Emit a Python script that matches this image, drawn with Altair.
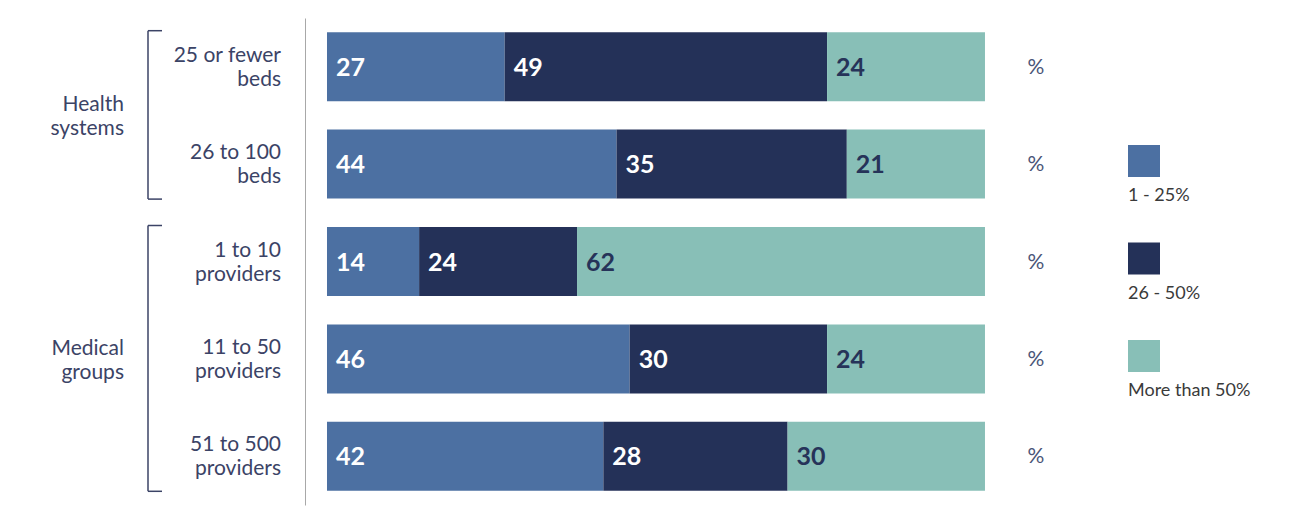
import altair as alt
import pandas as pd

# ---- data ----
rows = ["25 or fewer\nbeds", "26 to 100\nbeds", "1 to 10\nproviders",
        "11 to 50\nproviders", "51 to 500\nproviders"]
cats = ["1 - 25%", "26 - 50%", "More than 50%"]
v_low = [27, 44, 14, 46, 42]
v_mid = [49, 35, 24, 30, 28]
v_high = [24, 21, 62, 24, 30]
groups = ["Health\nsystems", "Medical\ngroups"]
group_first = [0, 2]
group_last = [1, 4]
colors = ["#4c70a2", "#243158", "#88bfb7"]

FONT = "Lato"
NAVY_TXT = "#3b4366"

long_rows = []
for i, r in enumerate(rows):
    for k, (c, vals) in enumerate(zip(cats, [v_low, v_mid, v_high])):
        long_rows.append({"row": r, "idx": i, "cat": c, "order": k, "value": vals[i]})
df = pd.DataFrame(long_rows)
rows_df = pd.DataFrame({"row": rows, "idx": list(range(len(rows)))})
groups_df = pd.DataFrame({"group": groups, "first": group_first, "last": group_last})
legend_df = pd.DataFrame({"cat": cats, "k": list(range(len(cats)))})

xs = alt.Scale(domain=[-3.343, 148.18], nice=False, zero=False, padding=0)
ys = alt.Scale(domain=[-0.5, 4.5], nice=False, zero=False, reverse=True, padding=0)
cs = alt.Scale(domain=cats, range=colors)

stacked = alt.Chart(df).transform_stack(
    stack="value", groupby=["idx"], as_=["x0", "x1"],
    sort=[alt.SortField("order", order="ascending")]
)

bars = stacked.mark_bar(orient="horizontal", size=69).encode(
    x=alt.X("x0:Q", scale=xs, axis=None),
    x2="x1:Q",
    y=alt.Y("idx:Q", scale=ys, title=""),
    color=alt.Color("cat:N", scale=cs, legend=None),
)

values = stacked.mark_text(align="left", baseline="middle", dx=9, dy=1, font=FONT,
                           fontWeight="bold", fontSize=25).encode(
    x=alt.X("x0:Q", scale=xs, axis=None),
    y=alt.Y("idx:Q", scale=ys, title=""),
    text=alt.Text("value:Q"),
    color=alt.condition(alt.datum.order == 2, alt.value("#263359"), alt.value("white")),
)

pct = alt.Chart(df).transform_aggregate(
    total="sum(value)", groupby=["idx"]
).mark_text(text="%", align="center", baseline="middle", dx=51, dy=1, font=FONT,
            fontSize=21, color="#4a5578").encode(
    x=alt.X("total:Q", scale=xs, axis=None),
    y=alt.Y("idx:Q", scale=ys, title=""),
)

row_labels = alt.Chart(rows_df).mark_text(
    align="right", baseline="middle", lineBreak="\n", lineHeight=24, dy=-11,
    font=FONT, fontSize=21, color=NAVY_TXT
).encode(
    x=alt.value(-24),
    y=alt.Y("idx:Q", scale=ys, title=""),
    text="row:N",
)

bracket_v = alt.Chart(groups_df).mark_rule(
    yOffset=-36, y2Offset=35, color=NAVY_TXT, strokeWidth=1.5
).encode(
    x=alt.value(-157),
    y=alt.Y("first:Q", scale=ys, title=""),
    y2="last:Q",
)
bracket_top = alt.Chart(groups_df).mark_rule(
    yOffset=-36, color=NAVY_TXT, strokeWidth=1.5
).encode(
    x=alt.value(-157), x2=alt.value(-143),
    y=alt.Y("first:Q", scale=ys, title=""),
)
bracket_bot = alt.Chart(groups_df).mark_rule(
    yOffset=35, color=NAVY_TXT, strokeWidth=1.5
).encode(
    x=alt.value(-157), x2=alt.value(-143),
    y=alt.Y("last:Q", scale=ys, title=""),
)
group_labels = alt.Chart(groups_df).transform_calculate(
    mid="(datum.first + datum.last) / 2"
).mark_text(
    align="right", baseline="middle", lineBreak="\n", lineHeight=24, dy=-10,
    font=FONT, fontSize=21, color=NAVY_TXT
).encode(
    x=alt.value(-181),
    y=alt.Y("mid:Q", scale=ys, title=""),
    text="group:N",
)

legend_base = alt.Chart(legend_df).transform_calculate(ly="datum.k + 1")
legend_sq = legend_base.mark_square(size=1024, opacity=1, filled=True, yOffset=-3).encode(
    x=alt.value(839),
    y=alt.Y("ly:Q", scale=ys, title=""),
    color=alt.Color("cat:N", scale=cs, legend=None),
)
legend_txt = legend_base.mark_text(
    align="left", baseline="middle", yOffset=32, font=FONT, fontSize=18,
    color="#3a3a3a"
).encode(
    x=alt.value(823),
    y=alt.Y("ly:Q", scale=ys, title=""),
    text="cat:N",
)

chart = alt.layer(
    bars, values, pct, row_labels, bracket_v, bracket_top, bracket_bot,
    group_labels, legend_sq, legend_txt
).properties(
    width=997, height=487,
    autosize=alt.AutoSizeParams(type="none"),
    padding={"left": 297, "top": 10, "right": 0, "bottom": 13},
).configure_view(stroke=None).configure_axisY(
    labels=False, ticks=False, grid=False, domainColor="#a8a8a8", domainWidth=1
)

chart.save("out.html", embed_options={"renderer": "svg", "actions": False})
